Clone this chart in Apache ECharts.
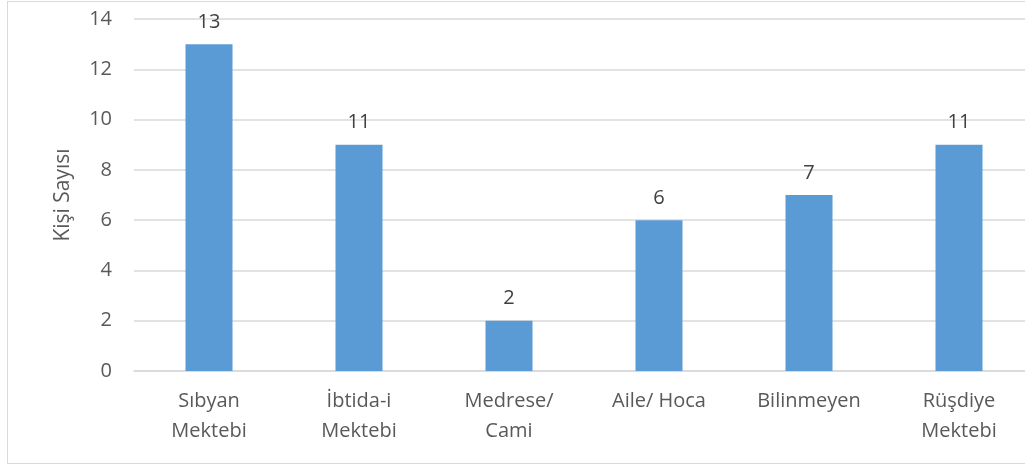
<!DOCTYPE html>
<html><head><meta charset="utf-8">
<script src="https://cdn.jsdelivr.net/npm/echarts@6/dist/echarts.min.js"></script>
<style>
html,body{margin:0;padding:0;background:#fff;overflow:hidden;width:1025px;height:468px;}
#frame{position:absolute;left:7px;top:1px;width:1030px;height:463px;border:1.5px solid #d9d9d9;box-sizing:border-box;}
#c{position:absolute;left:0;top:0;width:1040px;height:468px;}
</style></head>
<body>
<div id="frame"></div>
<div id="c"></div>
<script>
const categories = ['Sıbyan\nMektebi', 'İbtida-i\nMektebi', 'Medrese/\nCami', 'Aile/ Hoca', 'Bilinmeyen', 'Rüşdiye\nMektebi'];
const barValues = [13, 9, 2, 6, 7, 9];
const barLabels = ['13', '11', '2', '6', '7', '11'];
const yTicks = [0, 2, 4, 6, 8, 10, 12, 14];
const yAxisName = 'Kişi Sayısı';

const font = '"Open Sans", "Noto Sans", sans-serif';
const chart = echarts.init(document.getElementById('c'));
chart.setOption({
  animation: false,
  textStyle: {fontFamily: font},
  grid: {left: 134, right: 6, top: 19, bottom: 97, containLabel: false},
  xAxis: {
    type: 'category', data: categories,
    axisLine: {show: true, lineStyle: {color: '#d9d9d9', width: 1.5}},
    axisTick: {show: false},
    axisLabel: {color: '#595959', fontSize: 20, lineHeight: 30, margin: 15, fontFamily: font, interval: 0}
  },
  yAxis: {
    type: 'value', min: yTicks[0], max: yTicks[yTicks.length - 1], interval: 2,
    name: yAxisName, nameLocation: 'middle', nameGap: 60,
    nameTextStyle: {color: '#595959', fontSize: 21, fontFamily: font},
    axisLine: {show: false}, axisTick: {show: false},
    axisLabel: {color: '#595959', fontSize: 20, margin: 22, fontFamily: font},
    splitLine: {lineStyle: {color: '#d9d9d9', width: 1.5}}
  },
  series: [{
    type: 'bar', data: barValues, barWidth: 47,
    itemStyle: {color: '#5b9bd5'},
    label: {show: true, position: 'top', distance: 12, color: '#404040', fontSize: 20, fontFamily: font,
      formatter: p => barLabels[p.dataIndex]}
  }]
});
</script>
</body></html>
